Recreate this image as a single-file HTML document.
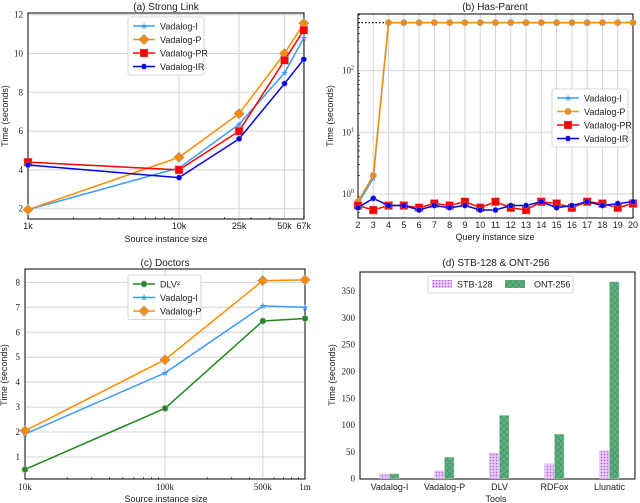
<!DOCTYPE html>
<html><head><meta charset="utf-8"><style>
body{margin:0;background:#fff}
svg{display:block;font-family:"Liberation Sans",sans-serif}
</style></head><body>
<svg id="fig" width="640" height="503" viewBox="0 0 640 503" xmlns="http://www.w3.org/2000/svg">
<defs>
<pattern id="hatchP" width="3" height="3" patternUnits="userSpaceOnUse"><rect width="3" height="3" fill="#e8c8f8"/><circle cx="1.5" cy="1.5" r="0.8" fill="#b060e0"/></pattern>
<pattern id="hatchG" width="6" height="6" patternUnits="userSpaceOnUse"><rect width="6" height="6" fill="#5fae80"/><path d="M0,0L6,6M6,0L0,6" stroke="#3f8a60" stroke-width="0.6"/></pattern>
</defs>
</svg>
<script>
// ---- Panel (a) data ----
const aCats=[1,10,25,50,67];
const aTickLabels=["1k","10k","25k","50k","67k"];
const aI=[1.95,4.1,6.35,9.0,10.8];
const aP=[1.95,4.65,6.9,10.0,11.55];
const aPR=[4.4,4.0,6.0,9.65,11.2];
const aIR=[4.25,3.6,5.6,8.45,9.7];
const aYTicks=[2,4,6,8,10,12];
// ---- Panel (b) data ----
const bCats=[2,3,4,5,6,7,8,9,10,11,12,13,14,15,16,17,18,19,20];
const bI=[0.7,1.8,600,600,600,600,600,600,600,600,600,600,600,600,600,600,600,600,600];
const bP=[0.75,2.0,600,600,600,600,600,600,600,600,600,600,600,600,600,600,600,600,600];
const bPR=[0.65,0.55,0.65,0.65,0.6,0.7,0.65,0.75,0.6,0.75,0.6,0.55,0.75,0.7,0.6,0.75,0.7,0.6,0.7];
const bIR=[0.6,0.85,0.65,0.65,0.55,0.65,0.6,0.65,0.55,0.55,0.65,0.65,0.75,0.6,0.65,0.75,0.65,0.7,0.75];
const bTimeout=600;
// ---- Panel (c) data ----
const cCats=[10,100,500,1000];
const cTickLabels=["10k","100k","500k","1m"];
const cDLV=[0.5,2.95,6.45,6.55];
const cI=[1.92,4.37,7.05,7.0];
const cP=[2.05,4.9,8.07,8.1];
const cYTicks=[1,2,3,4,5,6,7,8];
// ---- Panel (d) data ----
const dTools=["Vadalog-I","Vadalog-P","DLV","RDFox","Llunatic"];
const dSTB=[9,15,48,28,52];
const dONT=[9,40,118,83,367];
const dYTicks=[0,50,100,150,200,250,300,350];

const svg=document.getElementById('fig');
const NS="http://www.w3.org/2000/svg";
function mk(tag,attrs,parent,text){const e=document.createElementNS(NS,tag);for(const k in attrs)e.setAttribute(k,attrs[k]);if(text!==undefined)e.textContent=text;(parent||svg).appendChild(e);return e;}
const C={I:"#3d9bff",P:"#ff8c00",PR:"#ff0000",IR:"#0000ee",DLV:"#1f8a1f"};

function marker(g,kind,x,y,col){
  let e;
  if(kind==="star"){e=mk('text',{x:x,y:y+3,'text-anchor':'middle','font-size':9,fill:col},g,'★');}
  else if(kind==="diamond"){e=mk('path',{d:`M${x},${y-5}L${x+5},${y}L${x},${y+5}L${x-5},${y}Z`,fill:col,stroke:'#999','stroke-width':0.7},g);}
  else if(kind==="square"){e=mk('rect',{x:x-4,y:y-4,width:8,height:8,fill:col,stroke:'#aaa','stroke-width':0.5},g);}
  else if(kind==="circle"){e=mk('circle',{cx:x,cy:y,r:2.8,fill:col,stroke:'#999','stroke-width':0.5},g);}
  else if(kind==="xcirc"){e=mk('circle',{cx:x,cy:y,r:3,fill:col,stroke:'#999','stroke-width':0.7},g);}
  
  
}
function series(panel,name,cats,vals,xf,yf,col,kind){
  const g=mk('g',{},panel);
  
  
  const pts=cats.map((c,i)=>xf(c)+','+yf(vals[i])).join(' ');
  const l=mk('polyline',{points:pts,fill:'none',stroke:col,'stroke-width':1.5},g);
  
  
  cats.forEach((c,i)=>marker(g,kind,xf(c),yf(vals[i]),col));
}
function frame(panel,x0,y0,x1,y1){
  const r=mk('rect',{x:x0,y:y0,width:x1-x0,height:y1-y0,fill:'none',stroke:'#000','stroke-width':1},panel);
  
  
}
function grid(panel,x1,y1,x2,y2){mk('line',{x1:x1,y1:y1,x2:x2,y2:y2,stroke:'#d4d4d4','stroke-width':1},panel);}
function label(panel,name,x,y,txt,opts){
  const t=mk('text',Object.assign({x:x,y:y,'font-size':9,fill:'#222'},opts||{}),panel,txt);
  
  
  return t;
}
function legend(panel,x,y,w,entries){
  const g=mk('g',{},panel);
  
  
  mk('rect',{x:x,y:y,width:w,height:entries.length*13.5+4,fill:'#fff',stroke:'#ccc','stroke-width':0.8,rx:2},g);
  entries.forEach((e,i)=>{
    const yy=y+9+i*13.5;
    const eg=mk('g',{},g);
    
    
    mk('line',{x1:x+5,y1:yy,x2:x+27,y2:yy,stroke:e.col,'stroke-width':1.5},eg);
    marker(eg,e.kind,x+16,yy,e.col);
    mk('text',{x:x+32,y:yy+3.5,'font-size':9,fill:'#222'},eg,e.name);
  });
}
function panelG(name){const g=mk('g',{});return g;}

// ===== Panel (a) =====
(function(){
  const P=panelG('panel-strong-link');
  const x0=28,x1=304,y0=13,y1=219;
  const xf=v=>x0+Math.log10(v)*151;
  const yf=v=>208.7-(v-2)*19.4;
  aCats.forEach(c=>grid(P,xf(c),y0,xf(c),y1));
  aYTicks.forEach(t=>grid(P,x0,yf(t),x1,yf(t)));
  [2,3,4,5,6,7,8,9,20,30,40].forEach(m=>mk('line',{x1:xf(m),y1:y1,x2:xf(m),y2:y1-2,stroke:'#000','stroke-width':0.6},P));
  frame(P,x0,y0,x1,y1);
  aCats.forEach((c,i)=>label(P,'x-tick-label',xf(c),229,aTickLabels[i],{'text-anchor':'middle'}));
  aYTicks.forEach(t=>label(P,'y-tick-label',x0-5,yf(t)+3,String(t),{'text-anchor':'end','font-family':'Liberation Serif'}));
  label(P,'x-axis-title',166,242,'Source instance size',{'text-anchor':'middle'});
  label(P,'y-axis-title',8,116,'Time (seconds)',{'text-anchor':'middle',transform:'rotate(-90 8 116)'});
  label(P,'chart-title',166,10,'(a) Strong Link',{'text-anchor':'middle','font-size':10});
  series(P,'vadalog-i',aCats,aI,xf,yf,C.I,'star');
  series(P,'vadalog-p',aCats,aP,xf,yf,C.P,'diamond');
  series(P,'vadalog-pr',aCats,aPR,xf,yf,C.PR,'square');
  series(P,'vadalog-ir',aCats,aIR,xf,yf,C.IR,'circle');
  legend(P,128,17,76,[{name:'Vadalog-I',col:C.I,kind:'star'},{name:'Vadalog-P',col:C.P,kind:'diamond'},{name:'Vadalog-PR',col:C.PR,kind:'square'},{name:'Vadalog-IR',col:C.IR,kind:'circle'}]);
})();

// ===== Panel (b) =====
(function(){
  const P=panelG('panel-has-parent');
  const x0=358,x1=633,y0=14,y1=218;
  const xf=v=>x0+(v-2)*(x1-x0)/18;
  const yf=v=>194-Math.log10(v)*61.7;
  bCats.forEach(c=>grid(P,xf(c),y0,xf(c),y1));
  [1,10,100].forEach(t=>grid(P,x0,yf(t),x1,yf(t)));
  for(let d=-1;d<3;d++)for(let m=2;m<10;m++){const y=yf(m*Math.pow(10,d));if(y>y0&&y<y1)mk('line',{x1:x0,y1:y,x2:x0+2,y2:y,stroke:'#000','stroke-width':0.6},P);}
  frame(P,x0,y0,x1,y1);
  const dl=mk('line',{x1:x0,y1:yf(bTimeout),x2:x1,y2:yf(bTimeout),stroke:'#000','stroke-width':1.2,'stroke-dasharray':'1.5,2'},P);
  
  
  bCats.forEach(c=>label(P,'x-tick-label',xf(c),228,String(c),{'text-anchor':'middle'}));
  [[1,'0'],[10,'1'],[100,'2']].forEach(([t,e])=>{const tl=label(P,'y-tick-label',x0-4,yf(t)+3,'10',{'text-anchor':'end','font-family':'Liberation Serif'});mk('tspan',{dy:-4,'font-size':6},tl,e);});
  label(P,'x-axis-title',495,240,'Query instance size',{'text-anchor':'middle'});
  label(P,'y-axis-title',333,116,'Time (seconds)',{'text-anchor':'middle',transform:'rotate(-90 333 116)'});
  label(P,'chart-title',495,10,'(b) Has-Parent',{'text-anchor':'middle','font-size':10});
  series(P,'vadalog-i',bCats,bI,xf,yf,C.I,'star');
  series(P,'vadalog-p',bCats,bP,xf,yf,C.P,'xcirc');
  series(P,'vadalog-pr',bCats,bPR,xf,yf,C.PR,'square');
  series(P,'vadalog-ir',bCats,bIR,xf,yf,C.IR,'circle');
  legend(P,552,89,76,[{name:'Vadalog-I',col:C.I,kind:'star'},{name:'Vadalog-P',col:C.P,kind:'xcirc'},{name:'Vadalog-PR',col:C.PR,kind:'square'},{name:'Vadalog-IR',col:C.IR,kind:'circle'}]);
})();

// ===== Panel (c) =====
(function(){
  const P=panelG('panel-doctors');
  const x0=25,x1=305,y0=269,y1=479;
  const xf=v=>x0+Math.log10(v/10)*140;
  const yf=v=>457-(v-1)*24.95;
  cCats.forEach(c=>grid(P,xf(c),y0,xf(c),y1));
  cYTicks.forEach(t=>grid(P,x0,yf(t),x1,yf(t)));
  [20,30,40,50,60,70,80,90,200,300,400,600,700,800,900].forEach(m=>mk('line',{x1:xf(m),y1:y1,x2:xf(m),y2:y1-2,stroke:'#000','stroke-width':0.6},P));
  frame(P,x0,y0,x1,y1);
  cCats.forEach((c,i)=>label(P,'x-tick-label',xf(c),490,cTickLabels[i],{'text-anchor':'middle','font-family':'Liberation Serif'}));
  cYTicks.forEach(t=>label(P,'y-tick-label',x0-5,yf(t)+3,String(t),{'text-anchor':'end','font-family':'Liberation Serif'}));
  label(P,'x-axis-title',166,502,'Source instance size',{'text-anchor':'middle'});
  label(P,'y-axis-title',7,375,'Time (seconds)',{'text-anchor':'middle',transform:'rotate(-90 7 375)'});
  label(P,'chart-title',165,266,'(c) Doctors',{'text-anchor':'middle','font-size':10});
  series(P,'dlv',cCats,cDLV,xf,yf,C.DLV,'xcirc');
  series(P,'vadalog-i',cCats,cI,xf,yf,C.I,'star');
  series(P,'vadalog-p',cCats,cP,xf,yf,C.P,'diamond');
  legend(P,128,275,73,[{name:'DLV\u00b2',col:C.DLV,kind:'xcirc'},{name:'Vadalog-I',col:C.I,kind:'star'},{name:'Vadalog-P',col:C.P,kind:'diamond'}]);
})();

// ===== Panel (d) =====
(function(){
  const P=panelG('panel-stb-ont');
  const x0=360,x1=635,y0=272,y1=479;
  const yf=v=>478.7-v*0.5363;
  const step=(x1-x0)/dTools.length;
  const cx=i=>x0+step*(i+0.5)+2;
  frame(P,x0,y0,x1,y1);
  dTools.forEach((t,i)=>{
    const b1=mk('rect',{x:cx(i)-10,y:yf(dSTB[i]),width:9.5,height:yf(0)-yf(dSTB[i]),fill:'url(#hatchP)',stroke:'#e0c0f0','stroke-width':0.5},P);
    
    
    const b2=mk('rect',{x:cx(i),y:yf(dONT[i]),width:9.5,height:yf(0)-yf(dONT[i]),fill:'url(#hatchG)',stroke:'#a8d8b8','stroke-width':0.5},P);
    
    
    label(P,'x-tick-label',cx(i),490,t,{'text-anchor':'middle'});
  });
  dYTicks.forEach(t=>label(P,'y-tick-label',x0-5,yf(t)+3,String(t),{'text-anchor':'end','font-family':'Liberation Serif'}));
  label(P,'x-axis-title',496,502,'Tools',{'text-anchor':'middle'});
  label(P,'y-axis-title',335,375,'Time (seconds)',{'text-anchor':'middle',transform:'rotate(-90 335 375)'});
  label(P,'chart-title',496,266,'(d) STB-128 & ONT-256',{'text-anchor':'middle','font-size':10});
  const g=mk('g',{},P);
  
  
  mk('rect',{x:428,y:276,width:145,height:17,fill:'#fff',stroke:'#ccc','stroke-width':0.8,rx:2},g);
  const e1=mk('g',{},g);
  
  
  mk('rect',{x:432,y:280,width:20,height:8,fill:'url(#hatchP)'},e1);
  mk('text',{x:457,y:287.5,'font-size':9,fill:'#222'},e1,'STB-128');
  const e2=mk('g',{},g);
  
  
  mk('rect',{x:505,y:280,width:20,height:8,fill:'url(#hatchG)'},e2);
  mk('text',{x:534,y:287.5,'font-size':9,fill:'#222'},e2,'ONT-256');
})();
</script>
</body></html>
